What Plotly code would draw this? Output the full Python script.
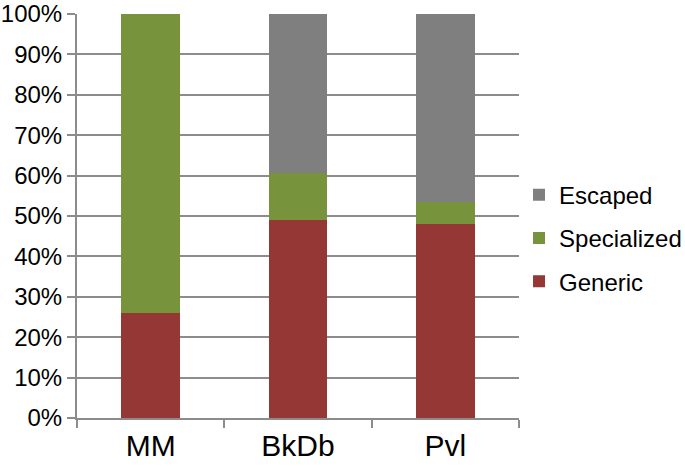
import plotly.graph_objects as go

categories = ["MM", "BkDb", "Pvl"]
generic = [0.26, 0.491, 0.48]
specialized = [0.74, 0.116, 0.055]
escaped = [0.0, 0.393, 0.465]

series_names = ["Generic", "Specialized", "Escaped"]
series_values = [generic, specialized, escaped]
series_colors = ["#953735", "#77933C", "#7F7F7F"]
legend_ranks = [3, 2, 1]

y_tick_vals = [i / 10 for i in range(11)]
y_tick_text = [f"{i * 10}%" for i in range(11)]

fig = go.Figure()
for name, vals, col, rk in zip(series_names, series_values, series_colors, legend_ranks):
    fig.add_trace(go.Bar(x=categories, y=vals, name=name, marker_color=col,
                         marker_line_width=0, legendgroup=name, legendrank=rk))

font_family = "Liberation Sans, Arial, Helvetica, sans-serif"
fig.update_layout(
    barmode="stack",
    bargap=0.6,
    width=685, height=467,
    margin=dict(l=77, r=161, t=14, b=49),
    paper_bgcolor="white", plot_bgcolor="white",
    font=dict(family=font_family, size=24, color="black"),
    legend=dict(traceorder="grouped", xref="container", yref="container",
                x=0.7577, xanchor="left", y=0.49,
                yanchor="middle", font=dict(size=24), tracegroupgap=9,
                itemwidth=30, bgcolor="rgba(0,0,0,0)"),
    showlegend=True,
)
fig.update_xaxes(showline=True, linecolor="#8c8c8c", linewidth=2,
                 ticks="outside", tickson="boundaries", ticklen=8,
                 tickcolor="#8c8c8c", tickwidth=2, automargin=False,
                 tickfont=dict(size=30), showgrid=False)
fig.update_yaxes(range=[0, 1], tickvals=y_tick_vals, ticktext=y_tick_text,
                 showline=True, linecolor="#8c8c8c", linewidth=2,
                 ticks="outside", ticklen=8, tickcolor="#8c8c8c", tickwidth=2,
                 showgrid=True, gridcolor="#8c8c8c", gridwidth=2,
                 zeroline=False, automargin=False, ticklabeloverflow="allow",
                 tickfont=dict(size=24))

fig.write_html("out.html", config={"displayModeBar": False},
               post_script="document.body.style.margin='0';")
